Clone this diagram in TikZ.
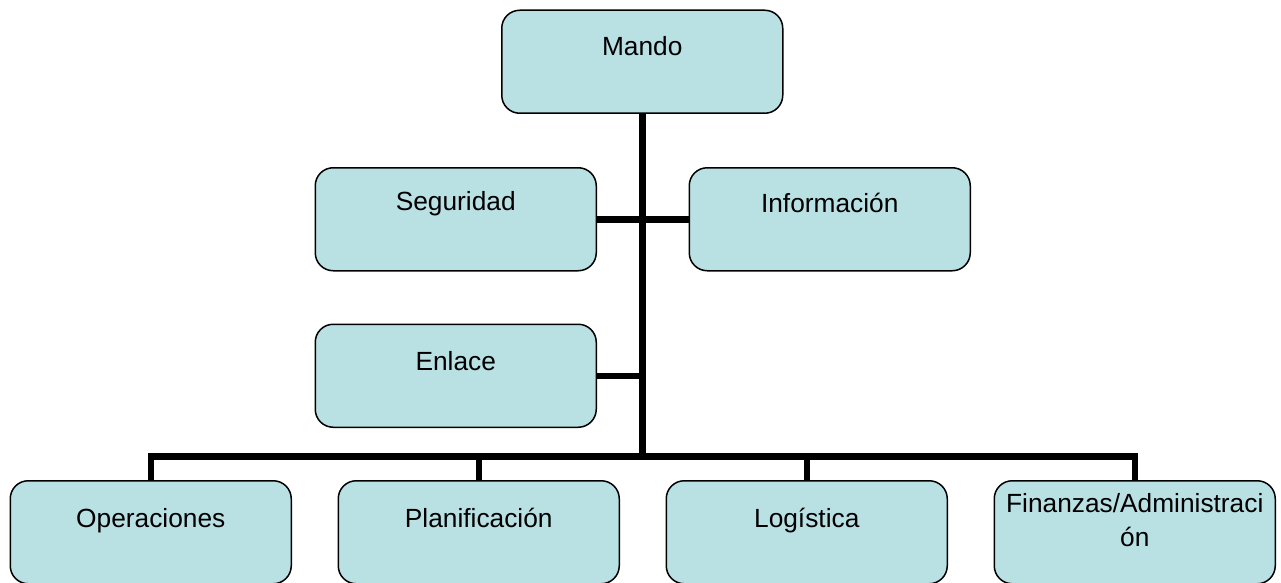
\documentclass[tikz,border=0pt]{standalone}
\usepackage{fontspec}
\setmainfont{Liberation Sans}
\usetikzlibrary{backgrounds}
\definecolor{boxfill}{RGB}{185,224,227}
\tikzset{
  box/.style={draw=black, line width=1.5pt, fill=boxfill, rounded corners=18pt,
    minimum width=281pt, minimum height=103pt, inner sep=0pt, anchor=north west},
  lbl/.style={font=\fontsize{26.3}{31}\selectfont, anchor=base, inner sep=0pt},
  conn/.style={draw=black, line width=6.5pt, line join=miter, line cap=butt}
}
\begin{document}
\begin{tikzpicture}[x=1pt,y=-1pt]
\useasboundingbox (0,0) rectangle (1281,583);
\coordinate (bar) at (641.5,456.5);
\node[box] (mando) at (501,9.5) {};
\node[box] (seg) at (314.5,167) {};
\node[box] (inf) at (688.5,167) {};
\node[box] (enl) at (314.5,323.5) {};
\node[box] (ops) at (9.5,480) {};
\node[box] (plan) at (337.5,480) {};
\node[box] (log) at (665.5,480) {};
\node[box] (fin) at (993.5,480) {};
\begin{scope}[on background layer]
\fill[white] (0,0) rectangle (1281,583);
\draw[conn] (mando.south) -- (mando.south |- bar);
\draw[conn] (seg.east) -- (inf.west);
\draw[conn] (enl.east) -- (enl.east -| mando.south);
\draw[conn] (ops.north) -- (ops.north |- bar) -- (fin.north |- bar) -- (fin.north);
\draw[conn] (plan.north) -- (plan.north |- bar);
\draw[conn] (log.north) -- (log.north |- bar);
\end{scope}
% labels
\node[lbl] (tmando) at ([yshift=-46pt]mando.north) {Mando};
\node[lbl] (tseg) at ([yshift=-43pt]seg.north) {Seguridad};
\node[lbl] (tinf) at ([yshift=-45pt]inf.north) {Información};
\node[lbl] (tenl) at ([yshift=-47pt]enl.north) {Enlace};
\node[lbl] (tops) at ([yshift=-47pt]ops.north) {Operaciones};
\node[lbl] (tplan) at ([yshift=-47pt]plan.north) {Planificación};
\node[lbl] (tlog) at ([yshift=-47pt]log.north) {Logística};
\node[lbl] (tfin1) at ([yshift=-32pt]fin.north) {Finanzas/Administraci};
\node[lbl] (tfin2) at ([yshift=-66pt]fin.north) {ón};
\end{tikzpicture}
\end{document}
